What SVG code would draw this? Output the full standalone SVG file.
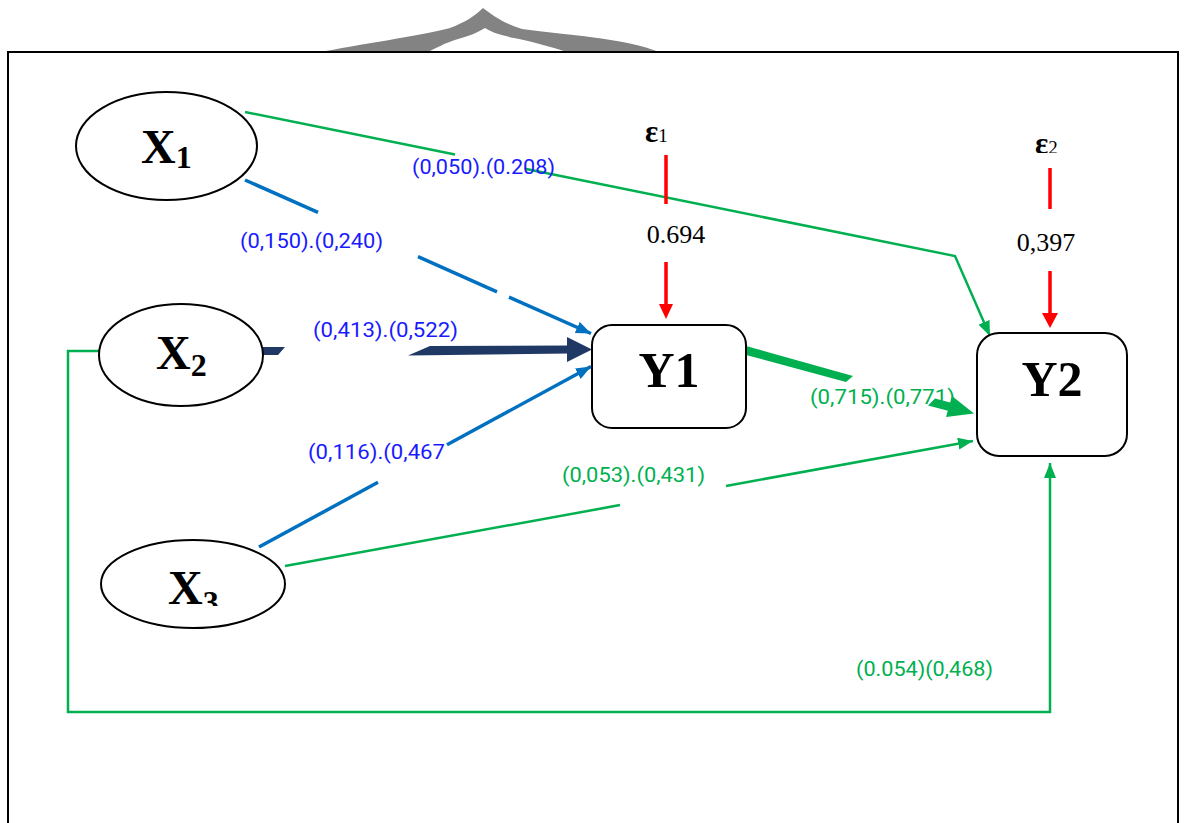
<svg xmlns="http://www.w3.org/2000/svg" width="1184" height="823" viewBox="0 0 1184 823">
  <defs>
    <style>
      .node { fill: #ffffff; stroke: #000000; stroke-width: 2; }
      .var { font-family: "Liberation Serif", "Times New Roman", serif; font-weight: bold; fill: #000000; }
      .num { font-family: "Liberation Serif", "Times New Roman", serif; font-size: 26px; fill: #000000; }
      .lbl { font-family: Roboto, "Liberation Sans", sans-serif; font-size: 21px; }
      .lbl-b { fill: #1a1aff; }
      .lbl-g { fill: #00b050; }
      .blue { stroke: #0070c0; stroke-width: 3.5; fill: none; }
      .green { stroke: #00b050; stroke-width: 2.5; fill: none; }
      .red { stroke: #ff0000; stroke-width: 3.5; fill: none; }
    </style>
    <marker id="headBlue" markerUnits="userSpaceOnUse" markerWidth="16" markerHeight="12" refX="15" refY="6" orient="auto">
      <path d="M0,0 L15,6 L0,12 z" fill="#0070c0"/>
    </marker>
    <marker id="headGreen" markerUnits="userSpaceOnUse" markerWidth="16" markerHeight="12" refX="15" refY="6" orient="auto">
      <path d="M0,0 L15,6 L0,12 z" fill="#00b050"/>
    </marker>
    <clipPath id="cutX3">
      <rect x="90" y="530" width="220" height="76"/>
    </clipPath>
    <clipPath id="cutE2">
      <rect x="1020" y="120" width="60" height="33"/>
    </clipPath>
  </defs>

  <rect width="1184" height="823" fill="#ffffff"/>

  <!-- grey brace ornament behind the frame -->
  <path d="M316,53 C360,44 420,36 450,28 C466,22 476,15 483,8 C492,15 505,24 522,29 C562,35 622,37 662,53 L570,53 C552,47 530,41 514,38 C500,35 491,32 485,28 C478,32 470,36 458,39 C445,43 436,48 426,53 Z" fill="#838383"/>

  <!-- outer frame -->
  <rect x="8" y="52" width="1170" height="800" fill="none" stroke="#000000" stroke-width="2"/>

  <!-- connectors -->
  <g id="connectors">
    <!-- X1 -> Y1 -->
    <line class="blue" x1="245" y1="180" x2="318" y2="212.4"/>
    <line class="blue" x1="418" y1="256.7" x2="497" y2="291.8"/>
    <line class="blue" x1="509" y1="297.1" x2="591" y2="333.5" marker-end="url(#headBlue)"/>
    <!-- X3 -> Y1 -->
    <line class="blue" x1="259" y1="547" x2="378" y2="482.3"/>
    <line class="blue" x1="447" y1="444.8" x2="591" y2="366.5" marker-end="url(#headBlue)"/>
    <!-- X2 -> Y1 (heavy) -->
    <polygon points="262,347 285,347 278,355 262,355" fill="#1f3864"/>
    <polygon points="430,346 569,345.5 569,353.5 408,355.5" fill="#1f3864"/>
    <polygon points="567,337 592,349.5 567,362" fill="#1f3864"/>
    <!-- X1 -> Y2 -->
    <line class="green" x1="245" y1="112" x2="455" y2="154.6"/>
    <polyline class="green" points="525,168.8 955,256 990,336" marker-end="url(#headGreen)"/>
    <!-- X3 -> Y2 -->
    <line class="green" x1="285" y1="566" x2="620" y2="505.1"/>
    <line class="green" x1="726" y1="485.9" x2="973" y2="441" marker-end="url(#headGreen)"/>
    <!-- X2 -> Y2 -->
    <polyline class="green" points="100,351 68,351 68,712 1050,712 1050,463" marker-end="url(#headGreen)"/>
    <!-- Y1 -> Y2 (heavy) -->
    <polygon points="746,346 853,376 846,382 746,355" fill="#00b050"/>
    <polygon points="935,398.5 951,402.8 948,410.8 928,405.5" fill="#00b050"/>
    <polygon points="946,417 974,413.5 952,396" fill="#00b050"/>
    <!-- error terms -->
    <line class="red" x1="666" y1="155" x2="666" y2="204"/>
    <line class="red" x1="666" y1="262" x2="666" y2="306"/>
    <polygon points="659,304 673,304 666,319" fill="#ff0000"/>
    <line class="red" x1="1050" y1="168" x2="1050" y2="209"/>
    <line class="red" x1="1050" y1="271" x2="1050" y2="315"/>
    <polygon points="1042,313 1058,313 1050,328" fill="#ff0000"/>
  </g>

  <!-- path coefficients -->
  <g id="labels">
    <text class="lbl lbl-b" x="412" y="174" textLength="143" lengthAdjust="spacingAndGlyphs">(0,050).(0.208)</text>
    <text class="lbl lbl-b" x="240" y="248" textLength="143" lengthAdjust="spacingAndGlyphs">(0,150).(0,240)</text>
    <text class="lbl lbl-b" x="313" y="337" textLength="145" lengthAdjust="spacingAndGlyphs">(0,413).(0,522)</text>
    <text class="lbl lbl-b" x="308" y="459" textLength="137" lengthAdjust="spacingAndGlyphs">(0,116).(0,467</text>
    <text class="lbl lbl-g" x="562" y="482" textLength="143" lengthAdjust="spacingAndGlyphs">(0,053).(0,431)</text>
    <text class="lbl lbl-g" x="810" y="404" textLength="145" lengthAdjust="spacingAndGlyphs">(0,715).(0,771)</text>
    <text class="lbl lbl-g" x="856" y="676" textLength="137" lengthAdjust="spacingAndGlyphs">(0.054)(0,468)</text>
  </g>

  <!-- exogenous variables -->
  <g id="X1">
    <ellipse class="node" cx="166.5" cy="146" rx="90.5" ry="54"/>
    <text class="var" x="141" y="163" font-size="48">X<tspan font-size="32" dy="5">1</tspan></text>
  </g>
  <g id="X2">
    <ellipse class="node" cx="181" cy="355" rx="82" ry="51"/>
    <text class="var" x="156" y="369" font-size="48">X<tspan font-size="32" dy="7">2</tspan></text>
  </g>
  <g id="X3">
    <ellipse class="node" cx="193" cy="584" rx="92" ry="44"/>
    <text class="var" x="168" y="604" font-size="48" clip-path="url(#cutX3)">X<tspan font-size="32" dy="9">3</tspan></text>
  </g>

  <!-- endogenous variables -->
  <g id="Y1">
    <rect class="node" x="592" y="325" width="154" height="103" rx="20"/>
    <text class="var" x="669" y="387" font-size="50" text-anchor="middle">Y1</text>
  </g>
  <g id="Y2">
    <rect class="node" x="977" y="333" width="150" height="123" rx="22"/>
    <text class="var" x="1052" y="396" font-size="50" text-anchor="middle">Y2</text>
  </g>

  <!-- residuals -->
  <g id="e1">
    <text class="var" x="645" y="142" font-size="31">ε<tspan font-size="19" font-weight="normal">1</tspan></text>
    <text class="num" x="676" y="243" text-anchor="middle">0.694</text>
  </g>
  <g id="e2">
    <text class="var" x="1035" y="154" font-size="31" clip-path="url(#cutE2)">ε<tspan font-size="19" font-weight="normal">2</tspan></text>
    <text class="num" x="1046" y="251" text-anchor="middle">0,397</text>
  </g>
</svg>
